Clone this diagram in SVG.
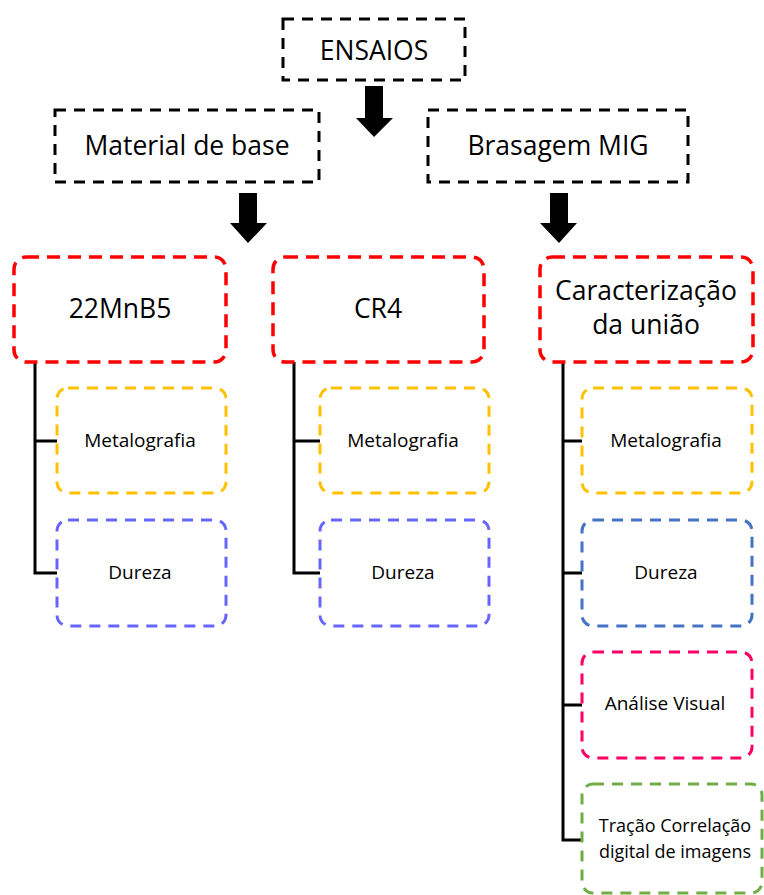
<svg xmlns="http://www.w3.org/2000/svg" width="764" height="895" viewBox="0 0 764 895">
<style>
  .t { font-family: "Open Sans", "DejaVu Sans", sans-serif; fill: #000; text-anchor: middle; }
  .big { font-size: 26.5px; }
  .sm { font-size: 19px; }
  .xs { font-size: 18px; }
  .blk { fill: none; stroke: #000; stroke-width: 3; stroke-dasharray: 11 8; }
  .red { fill: none; stroke: #ff0000; stroke-width: 3.5; stroke-dasharray: 13 8; }
  .yel { fill: none; stroke: #ffc000; stroke-width: 3; stroke-dasharray: 11 8; }
  .vio { fill: none; stroke: #6666ff; stroke-width: 3; stroke-dasharray: 11 8; }
  .blu { fill: none; stroke: #4472c4; stroke-width: 3; stroke-dasharray: 11 8; }
  .pnk { fill: none; stroke: #ff0066; stroke-width: 3; stroke-dasharray: 11 8; }
  .grn { fill: none; stroke: #70ad47; stroke-width: 3; stroke-dasharray: 11 8; }
  .conn { fill: none; stroke: #000; stroke-width: 3; }
  .arrow { fill: #000; }
</style>
<rect width="764" height="895" fill="#fff"/>

<g id="connectors">
  <path class="arrow" d="M365,86 H383 V118 H393 L374,137 L356,118 H365 Z"/>
  <path class="arrow" d="M239,193 H257 V223 H267 L248,243 L230,223 H239 Z"/>
  <path class="arrow" d="M550,193 H568 V223 H577 L559,243 L540,223 H550 Z"/>
  <path class="conn" d="M35,362 V573 H57 M35,441 H57"/>
  <path class="conn" d="M294,362 V573 H320 M294,441 H320"/>
  <path class="conn" d="M563,362 V840 H582 M563,441 H582 M563,573 H582 M563,705 H582"/>
</g>

<g id="n-ensaios">
  <rect class="blk" x="283" y="19" width="182" height="61"/>
  <text class="t big" x="374" y="60">ENSAIOS</text>
</g>
<g id="n-material">
  <rect class="blk" x="55" y="110" width="264" height="72"/>
  <text class="t big" x="187" y="155">Material de base</text>
</g>
<g id="n-brasagem">
  <rect class="blk" x="428" y="110" width="260" height="72"/>
  <text class="t big" x="558" y="155">Brasagem MIG</text>
</g>

<g id="n-22mnb5">
  <rect class="red" x="14" y="257" width="212" height="105" rx="12"/>
  <text class="t big" x="120" y="318">22MnB5</text>
</g>
<g id="n-cr4">
  <rect class="red" x="273" y="257" width="211" height="105" rx="12"/>
  <text class="t big" x="378" y="318">CR4</text>
</g>
<g id="n-caract">
  <rect class="red" x="540" y="257" width="213" height="105" rx="12"/>
  <text class="t big" x="646" y="300">Caracterização</text>
  <text class="t big" x="646" y="334">da união</text>
</g>

<g id="n-meta1">
  <rect class="yel" x="57" y="388" width="169" height="105" rx="11"/>
  <text class="t sm" x="140" y="447">Metalografia</text>
</g>
<g id="n-dur1">
  <rect class="vio" x="57" y="520" width="169" height="106" rx="11"/>
  <text class="t sm" x="140" y="579">Dureza</text>
</g>
<g id="n-meta2">
  <rect class="yel" x="320" y="388" width="169" height="105" rx="11"/>
  <text class="t sm" x="403" y="447">Metalografia</text>
</g>
<g id="n-dur2">
  <rect class="vio" x="320" y="520" width="169" height="106" rx="11"/>
  <text class="t sm" x="403" y="579">Dureza</text>
</g>

<g id="n-meta3">
  <rect class="yel" x="582" y="388" width="170" height="105" rx="11"/>
  <text class="t sm" x="666" y="447">Metalografia</text>
</g>
<g id="n-dur3">
  <rect class="blu" x="582" y="520" width="170" height="106" rx="11"/>
  <text class="t sm" x="666" y="579">Dureza</text>
</g>
<g id="n-visual">
  <rect class="pnk" x="582" y="652" width="170" height="106" rx="11"/>
  <text class="t sm" x="665" y="710">Análise Visual</text>
</g>
<g id="n-tracao">
  <rect class="grn" x="582" y="784" width="180" height="109" rx="11"/>
  <text class="t xs" x="675" y="832">Tração Correlação</text>
  <text class="t xs" x="675" y="858">digital de imagens</text>
</g>
</svg>
